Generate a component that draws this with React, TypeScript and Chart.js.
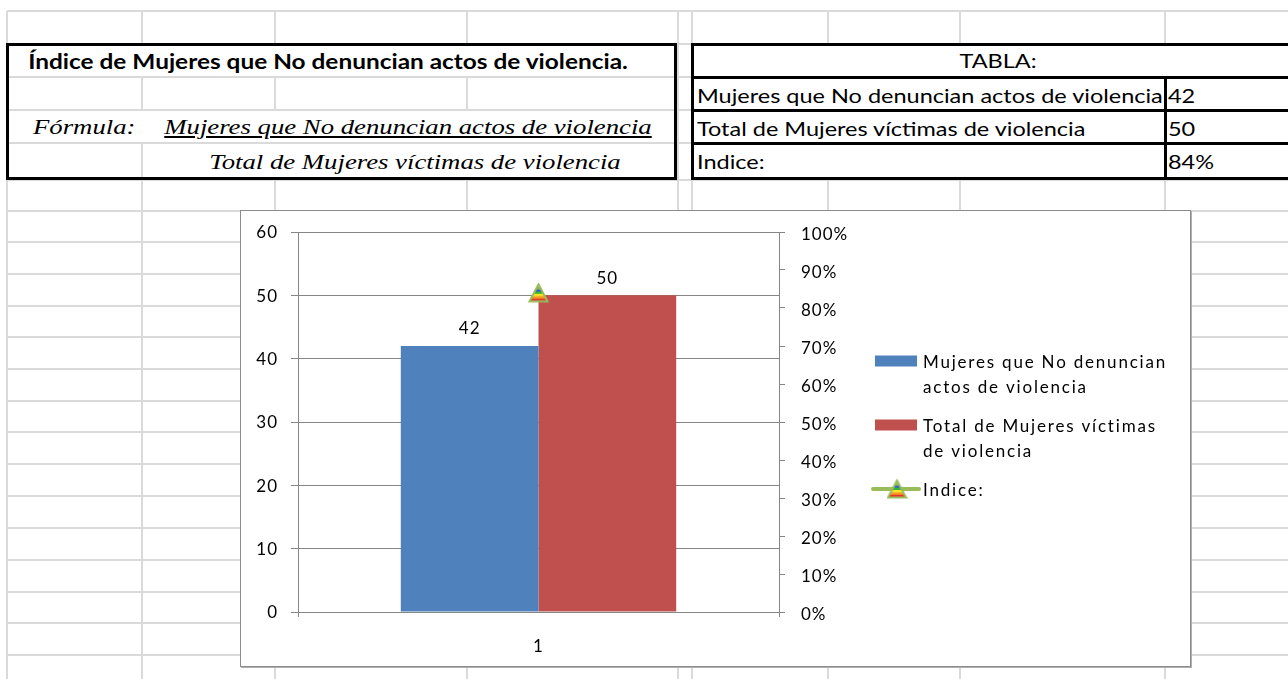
import React, { useEffect, useRef } from "react";
import { Chart, registerables } from "chart.js";

Chart.register(...registerables);

// ---------- data ----------
const categories = ["1"];
const seriesLabels = [
  "Mujeres que No denuncian actos de violencia",
  "Total de Mujeres víctimas de violencia",
  "Indice:",
];
const noDenuncian = [42];
const totalVictimas = [50];
const indice = [0.84];
const leftAxisMax = 60;
const leftAxisStep = 10;
const rightAxisMax = 1;
const rightAxisStep = 0.1;

const titleText = "Índice de Mujeres que No denuncian actos de violencia.";
const formulaLabel = "Fórmula:";
const tableTitle = "TABLA:";

// ---------- style constants ----------
const SANS = "Lato, 'Open Sans', sans-serif";
const SERIF = "'Liberation Serif', 'DejaVu Serif', serif";
const BLUE = "#4f81bd";
const RED = "#c0504d";
const GREEN = "#9bbb59";
const AXIS = "#868686";
const GRID = "#dadada";

function makeMarker(): HTMLCanvasElement {
  const c = document.createElement("canvas");
  c.width = 21;
  c.height = 20;
  const g = c.getContext("2d")!;
  const path = () => {
    g.beginPath();
    g.moveTo(10.5, 1.5);
    g.lineTo(19.5, 18.5);
    g.lineTo(1.5, 18.5);
    g.closePath();
  };
  g.save();
  path();
  g.clip();
  const bands: [number, number, string][] = [
    [0, 0.3, "#9bbb59"],
    [0.3, 0.42, "#2e5fd6"],
    [0.42, 0.56, "#38b03a"],
    [0.56, 0.7, "#f4e624"],
    [0.7, 0.84, "#f59a23"],
    [0.84, 1, "#e8312c"],
  ];
  const top = 1.5;
  const h = 17;
  bands.forEach(([a, b, col]) => {
    g.fillStyle = col;
    g.fillRect(0, top + a * h, 21, (b - a) * h + 0.5);
  });
  g.restore();
  path();
  g.strokeStyle = GREEN;
  g.lineWidth = 2;
  g.lineJoin = "miter";
  g.stroke();
  return c;
}

function wrapText(ctx: CanvasRenderingContext2D, text: string, maxW: number): string[] {
  const words = text.split(" ");
  const lines: string[] = [];
  let cur = "";
  words.forEach((w) => {
    const t = cur ? cur + " " + w : w;
    if (ctx.measureText(t).width > maxW && cur) {
      lines.push(cur);
      cur = w;
    } else cur = t;
  });
  if (cur) lines.push(cur);
  return lines;
}

const ChartView: React.FC = () => {
  const ref = useRef<HTMLCanvasElement | null>(null);
  useEffect(() => {
    if (!ref.current) return;
    const marker = makeMarker();
    const font = { family: SANS, size: 17 };

    const spacingPlugin = {
      id: "letterSpacing",
      beforeUpdate(chart: any) {
        (chart.ctx as any).letterSpacing = "1px";
      },
      beforeDraw(chart: any) {
        (chart.ctx as any).letterSpacing = "1px";
      },
    };

    const labelsPlugin = {
      id: "barLabels",
      afterDatasetsDraw(chart: any) {
        const ctx = chart.ctx as CanvasRenderingContext2D;
        ctx.save();
        ctx.font = `17px ${SANS}`;
        (ctx as any).letterSpacing = "1px";
        ctx.fillStyle = "#000";
        ctx.textAlign = "center";
        ctx.textBaseline = "middle";
        chart.data.datasets.forEach((ds: any, i: number) => {
          if (ds.type !== "bar") return;
          const meta = chart.getDatasetMeta(i);
          meta.data.forEach((el: any, j: number) => {
            ctx.fillText(String(ds.data[j]), el.x, el.y - 17);
          });
        });
        ctx.restore();
      },
    };

    const legendPlugin = {
      id: "sideLegend",
      afterDraw(chart: any) {
        const ctx = chart.ctx as CanvasRenderingContext2D;
        const area = chart.chartArea;
        const swX = area.right + 96;
        const swW = 42;
        const txX = area.right + 144;
        const lineH = 24.5;
        const gap = 15;
        let y = area.top + 131;
        ctx.save();
        ctx.font = `17px ${SANS}`;
        (ctx as any).letterSpacing = "1.8px";
        ctx.textBaseline = "middle";
        ctx.textAlign = "left";
        chart.data.datasets.forEach((ds: any) => {
          const lines = wrapText(ctx, ds.label, 255);
          if (ds.type === "bar") {
            ctx.fillStyle = ds.backgroundColor;
            ctx.fillRect(swX, y - 7.5, swW, 11);
          } else {
            ctx.strokeStyle = ds.borderColor;
            ctx.lineWidth = 4;
            ctx.lineCap = "round";
            ctx.beginPath();
            ctx.moveTo(swX - 2, y - 2);
            ctx.lineTo(swX + swW + 2, y - 2);
            ctx.stroke();
            ctx.drawImage(marker, swX + swW / 2 - marker.width / 2 + 1, y - 2 - marker.height / 2);
          }
          ctx.fillStyle = "#000";
          lines.forEach((ln, k) => ctx.fillText(ln, txX, y + k * lineH));
          y += lines.length * lineH + gap;
        });
        ctx.restore();
      },
    };

    const noVPad = (s: any) => {
      s.paddingTop = 0;
      s.paddingBottom = 0;
    };

    const chart = new Chart(ref.current, {
      type: "bar",
      data: {
        labels: categories,
        datasets: [
          {
            type: "bar",
            label: seriesLabels[0],
            data: noDenuncian,
            backgroundColor: BLUE,
            yAxisID: "y",
            barPercentage: 1,
            categoryPercentage: 0.5726,
            order: 2,
          },
          {
            type: "bar",
            label: seriesLabels[1],
            data: totalVictimas,
            backgroundColor: RED,
            yAxisID: "y",
            barPercentage: 1,
            categoryPercentage: 0.5726,
            order: 2,
          },
          {
            type: "line",
            label: seriesLabels[2],
            data: indice,
            yAxisID: "y1",
            borderColor: GREEN,
            backgroundColor: GREEN,
            borderWidth: 3,
            pointStyle: marker as any,
            pointRadius: 9,
            order: 0,
          },
        ] as any,
      },
      options: {
        animation: false,
        responsive: false,
        maintainAspectRatio: false,
        layout: { padding: { top: 21, right: 331, left: 0, bottom: 0 } },
        plugins: { legend: { display: false }, tooltip: { enabled: false } },
        scales: {
          x: {
            offset: true,
            grid: { offset: true, drawOnChartArea: false, color: AXIS, tickLength: 5 },
            border: { color: AXIS },
            ticks: { font, color: "#000", padding: 19 },
            afterFit: (s: any) => {
              s.height = 54;
            },
          },
          y: {
            position: "left",
            min: 0,
            max: leftAxisMax,
            ticks: { stepSize: leftAxisStep, font, color: "#000", padding: 13, labelOffset: 1 },
            grid: { color: AXIS, tickLength: 7 },
            border: { color: AXIS },
            afterFit: (s: any) => {
              s.width = 57;
              noVPad(s);
            },
          },
          y1: {
            position: "right",
            min: 0,
            max: rightAxisMax,
            ticks: {
              stepSize: rightAxisStep,
              font,
              color: "#000",
              padding: 16,
              labelOffset: 3,
              callback: (v: any) => Math.round(Number(v) * 100) + "%",
            },
            grid: { drawOnChartArea: false, color: AXIS, tickLength: 6 },
            border: { color: AXIS },
            afterFit: (s: any) => {
              s.width = 80;
              noVPad(s);
            },
          },
        },
      } as any,
      plugins: [spacingPlugin, labelsPlugin, legendPlugin],
    });
    return () => chart.destroy();
  }, []);
  return <canvas ref={ref} width={949} height={455} style={{ display: "block", width: 949, height: 455 }} />;
};

const vLines = [7, 142, 275, 467, 678, 692, 828, 960, 1165];
const hLines = [11, 44, 77, 110, 143, 180, 211, 242, 274, 306, 337, 369, 401, 432, 464, 496, 528, 560, 592, 623, 655];

const abs = (s: React.CSSProperties): React.CSSProperties => ({ position: "absolute", ...s });

const Txt: React.FC<{
  x: number;
  y: number;
  w?: number;
  sx?: number;
  align?: "left" | "center";
  style?: React.CSSProperties;
  children: React.ReactNode;
}> = ({ x, y, w, sx = 1, align = "left", style, children }) => (
  <div
    style={abs({
      left: align === "center" ? x - (w || 800) / 2 : x,
      top: y - 15,
      width: align === "center" ? w || 800 : undefined,
      height: 30,
      lineHeight: "30px",
      textAlign: align,
      whiteSpace: "nowrap",
      color: "#000",
      transform: `scaleX(${sx})`,
      transformOrigin: align === "center" ? "50% 50%" : "0 50%",
      ...style,
    })}
  >
    {children}
  </div>
);

export default function App() {
  const tableRows: [string, string][] = [
    [seriesLabels[0], String(noDenuncian[0])],
    [seriesLabels[1], String(totalVictimas[0])],
    [seriesLabels[2], Math.round(indice[0] * 100) + "%"],
  ];
  const sheetFont: React.CSSProperties = { fontFamily: SANS, fontSize: 19 };
  const serifIt: React.CSSProperties = { fontFamily: SERIF, fontStyle: "italic", fontSize: 22 };
  const SX = 1.236;
  const SXS = 1.215;
  return (
    <div style={abs({ left: 0, top: 0, width: 1288, height: 679, overflow: "hidden", background: "#fff" })}>
      {/* sheet grid */}
      {hLines.map((y) => (
        <div key={"h" + y} style={abs({ left: 7, top: y - 1, width: 1281, height: 2, background: GRID })} />
      ))}
      {vLines.map((x) => (
        <div key={"v" + x} style={abs({ left: x - 1, top: 11, width: 2, height: 668, background: GRID })} />
      ))}

      {/* left box */}
      <div style={abs({ left: 6, top: 43, width: 671, height: 137, background: "#fff", boxSizing: "border-box", border: "3px solid #000" })} />
      {[77, 110, 143].map((y) => (
        <div key={"lh" + y} style={abs({ left: 9, top: y - 1, width: 665, height: 2, background: GRID })} />
      ))}
      {[142, 275, 467].map((x) => (
        <div key={"lv" + x} style={abs({ left: x - 1, top: 78, width: 2, height: 31, background: GRID })} />
      ))}
      <div style={abs({ left: 141, top: 144, width: 2, height: 33, background: GRID })} />
      <Txt x={328} y={61} w={660} sx={1.22} align="center" style={{ ...sheetFont, fontSize: 20, fontWeight: 700 }}>
        {titleText}
      </Txt>
      <Txt x={33} y={127} sx={SXS} style={serifIt}>
        {formulaLabel}
      </Txt>
      <Txt x={408} y={127} w={560} sx={SXS} align="center" style={{ ...serifIt, textDecoration: "underline" }}>
        {seriesLabels[0]}
      </Txt>
      <Txt x={415} y={162} w={560} sx={SXS} align="center" style={serifIt}>
        {seriesLabels[1]}
      </Txt>

      {/* right box */}
      <div style={abs({ left: 691, top: 43, width: 620, height: 137, background: "#fff", boxSizing: "border-box", border: "3px solid #000" })} />
      {[77, 110, 143].map((y) => (
        <div key={"rh" + y} style={abs({ left: 692, top: y - 1, width: 620, height: 2.5, background: "#000" })} />
      ))}
      <div style={abs({ left: 1164, top: 77, width: 2.5, height: 101, background: "#000" })} />
      <Txt x={998} y={61} w={400} sx={SX} align="center" style={sheetFont}>
        {tableTitle}
      </Txt>
      {tableRows.map((r, i) => (
        <React.Fragment key={"tr" + i}>
          <Txt x={697} y={[96, 129, 162][i]} sx={SX} style={sheetFont}>
            {r[0]}
          </Txt>
          <Txt x={1168} y={[96, 129, 162][i]} sx={SX} style={sheetFont}>
            {r[1]}
          </Txt>
        </React.Fragment>
      ))}

      {/* chart object */}
      <div
        style={abs({
          left: 240,
          top: 210,
          width: 951,
          height: 457,
          boxSizing: "border-box",
          border: "1px solid #8c8c8c",
          boxShadow: "1px 1px 0 #b0b0b0",
          background: "#fff",
        })}
      >
        <ChartView />
      </div>
    </div>
  );
}
